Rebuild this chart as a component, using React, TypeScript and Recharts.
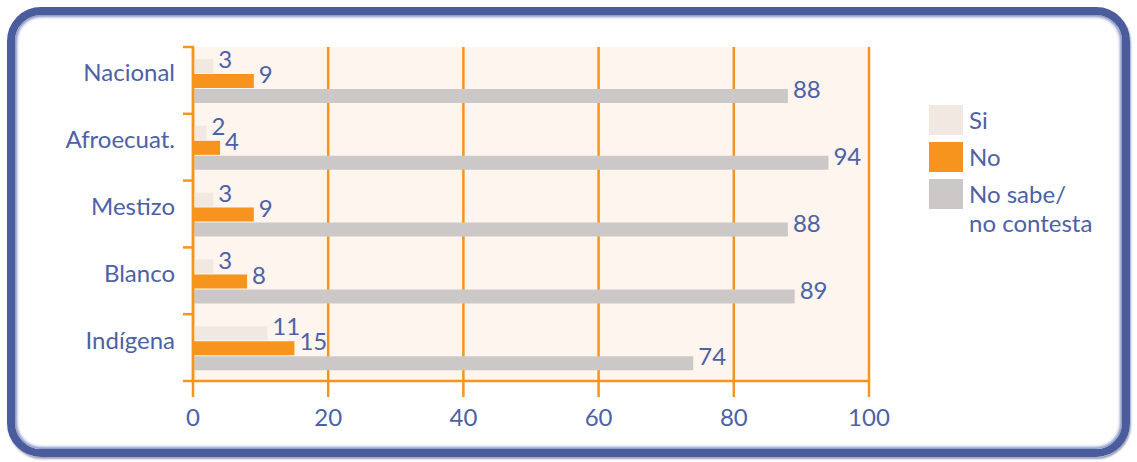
import React from "react";
import { BarChart, Bar, XAxis, YAxis, CartesianGrid, LabelList } from "recharts";

// Survey answers by self-identified group (percent)
const groups = ["Nacional", "Afroecuat.", "Mestizo", "Blanco", "Indígena"];
const siValues = [3, 2, 3, 3, 11];
const noValues = [9, 4, 9, 8, 15];
const nsncValues = [88, 94, 88, 89, 74];
const xTicks = [0, 20, 40, 60, 80, 100];

const seriesNames = { si: "Si", no: "No", nsnc: "No sabe/ no contesta" };

const data = groups.map((name, i) => ({
  name,
  si: siValues[i],
  no: noValues[i],
  nsnc: nsncValues[i],
}));

const ORANGE = "#f7941d";
const BLUE_TEXT = "#4d61a6";
const FONT = "'Lato', 'Open Sans', sans-serif";
const FONT_SIZE = 24;
const FONT_WEIGHT = 400;

const CHART_W = 1137;
const CHART_H = 462;
const MARGIN = { top: 47, right: 268, bottom: 41, left: 0 };
const Y_AXIS_W = 193;
const X_AXIS_H = 40;
const PLOT_H = CHART_H - MARGIN.top - MARGIN.bottom - X_AXIS_H;
const BAND = PLOT_H / groups.length;

const CategoryTick = (props: any) => {
  const { x, y, payload, index } = props;
  const isLast = index === groups.length - 1;
  return (
    <g>
      <text
        x={x}
        y={y - 5}
        textAnchor="end"
        dominantBaseline="middle"
        fill={BLUE_TEXT}
        fontFamily={FONT}
        fontSize={FONT_SIZE}
        fontWeight={FONT_WEIGHT}
      >
        {payload.value}
      </text>
      <line x1={x + 8} x2={x + 19} y1={y - BAND / 2} y2={y - BAND / 2} stroke={ORANGE} strokeWidth={2.5} />
      {isLast && (
        <line x1={x + 8} x2={x + 19} y1={y + BAND / 2} y2={y + BAND / 2} stroke={ORANGE} strokeWidth={2.5} />
      )}
    </g>
  );
};

const ValueLabel = (props: any) => {
  const { x, y, width, height, value } = props;
  return (
    <text
      x={x + width + 5}
      y={y + height / 2 - 4}
      dominantBaseline="middle"
      fill={BLUE_TEXT}
      fontFamily={FONT}
      fontSize={FONT_SIZE}
      fontWeight={FONT_WEIGHT}
    >
      {value}
    </text>
  );
};

const legendItems = [
  { key: "si", color: "#f1e9e1", lines: ["Si"] },
  { key: "no", color: ORANGE, lines: ["No"] },
  { key: "nsnc", color: "#cdc8c8", lines: ["No sabe/", "no contesta"] },
];

export default function App() {
  return (
    <div
      style={{
        position: "absolute",
        left: 0,
        top: 0,
        width: CHART_W,
        height: CHART_H,
        background: "#ffffff",
        fontFamily: FONT,
      }}
    >
      <div
        style={{
          position: "absolute",
          left: 7,
          top: 7,
          width: 1123,
          height: 450,
          boxSizing: "border-box",
          border: "8px solid #4a5c9c",
          borderRadius: 34,
          boxShadow: "inset 0 0 3px 2px #8391c4, 1px 2px 2px rgba(60,70,120,0.5)",
        }}
      />
      <div style={{ position: "absolute", left: 0, top: 0 }}>
        <BarChart
          width={CHART_W}
          height={CHART_H}
          data={data}
          layout="vertical"
          margin={MARGIN}
          barCategoryGap="18%"
          barGap={1}
        >
          <CartesianGrid
            horizontal={false}
            vertical={true}
            stroke={ORANGE}
            strokeWidth={2.5}
            fill="#fdf5ee"
            fillOpacity={1}
          />
          <XAxis
            type="number"
            domain={[0, 100]}
            ticks={xTicks}
            height={X_AXIS_H}
            axisLine={{ stroke: ORANGE, strokeWidth: 2.5 }}
            tickLine={{ stroke: ORANGE, strokeWidth: 2.5 }}
            tickSize={16}
            tickMargin={12}
            tick={{ fill: BLUE_TEXT, fontSize: FONT_SIZE, fontFamily: FONT, fontWeight: FONT_WEIGHT }}
          />
          <YAxis
            type="category"
            dataKey="name"
            width={Y_AXIS_W}
            axisLine={{ stroke: ORANGE, strokeWidth: 2.5 }}
            tickLine={false}
            tickSize={10}
            tickMargin={8}
            tick={<CategoryTick />}
            interval={0}
          />
          <Bar dataKey="si" name={seriesNames.si} fill="#f1e9e1" isAnimationActive={false}>
            <LabelList dataKey="si" content={<ValueLabel />} />
          </Bar>
          <Bar dataKey="no" name={seriesNames.no} fill={ORANGE} isAnimationActive={false}>
            <LabelList dataKey="no" content={<ValueLabel />} />
          </Bar>
          <Bar dataKey="nsnc" name={seriesNames.nsnc} fill="#cdc8c8" isAnimationActive={false}>
            <LabelList dataKey="nsnc" content={<ValueLabel />} />
          </Bar>
        </BarChart>
      </div>
      <div style={{ position: "absolute", left: 929, top: 105 }}>
        {legendItems.map((item) => (
          <div key={item.key} style={{ display: "flex", alignItems: "flex-start", marginBottom: 7 }}>
            <div style={{ width: 34, height: 30, background: item.color, flexShrink: 0 }} />
            <div
              style={{
                marginLeft: 6,
                color: BLUE_TEXT,
                fontSize: FONT_SIZE,
                fontWeight: FONT_WEIGHT,
                lineHeight: "29px",
                whiteSpace: "nowrap",
              }}
            >
              {item.lines.map((l) => (
                <div key={l}>{l}</div>
              ))}
            </div>
          </div>
        ))}
      </div>
    </div>
  );
}
